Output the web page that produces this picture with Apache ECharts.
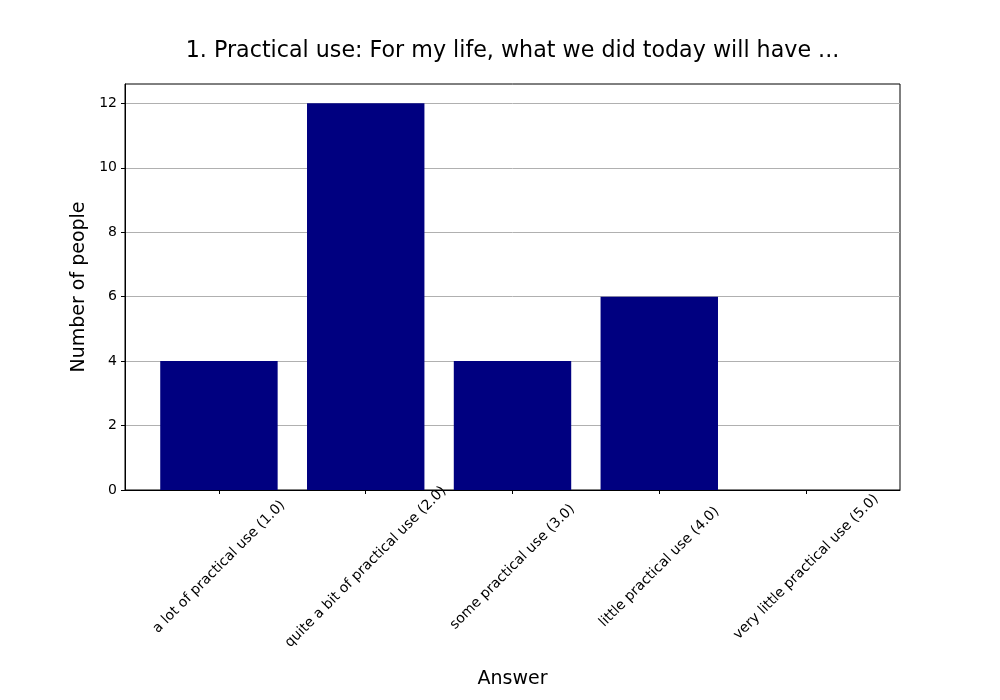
<!DOCTYPE html>
<html>
<head>
<meta charset="utf-8">
<script src="https://cdn.jsdelivr.net/npm/echarts@6/dist/echarts.min.js"></script>
<style>
  html, body { margin: 0; padding: 0; background: #fff; }
  #main { width: 1000px; height: 700px; }
</style>
</head>
<body>
<div id="main"></div>
<script>
var answers = ['a lot of practical use (1.0)', 'quite a bit of practical use (2.0)', 'some practical use (3.0)', 'little practical use (4.0)', 'very little practical use (5.0)'];
var people = [4, 12, 4, 6, 0];
var yTicks = [0, 2, 4, 6, 8, 10, 12];

var font = 'DejaVu Sans';
var plotLeft = 125, plotRight = 100, plotTop = 84, plotBottom = 210;
var xMin = -0.64, xMax = 4.64;
var plotWidth = 1000 - plotLeft - plotRight;

var myChart = echarts.init(document.getElementById('main'));
var option = {
	backgroundColor: '#fff',
	animation: false,
	title: {
		text: '1. Practical use: For my life, what we did today will have ...',
		left: plotLeft + plotWidth / 2 - 5,
		textAlign: 'center',
		top: 35,
		textStyle: { fontFamily: font, fontSize: 22.2, fontWeight: 'normal', color: '#000' }
	},
	grid: {
		left: plotLeft, right: plotRight, top: plotTop, bottom: plotBottom,
		show: true, borderColor: '#000', borderWidth: 1
	},
	xAxis: {
		type: 'value',
		min: xMin,
		max: xMax,
		name: 'Answer',
		nameLocation: 'middle',
		nameGap: 180,
		nameTextStyle: { fontFamily: font, fontSize: 19, color: '#000', verticalAlign: 'top' },
		axisLine: { show: true, onZero: false, lineStyle: { color: '#000', width: 1 } },
		axisTick: { show: true, length: 4, lineStyle: { color: '#000' }, customValues: answers.map(function (a, i) { return i; }) },
		splitLine: { show: false },
		axisLabel: {
			customValues: answers.map(function (a, i) { return i; }),
			rotate: 45,
			align: 'center',
			verticalAlign: 'middle',
			margin: 77,
			fontFamily: font,
			fontSize: 14,
			color: '#000',
			formatter: function (v) { return answers[Math.round(v)]; }
		}
	},
	yAxis: {
		type: 'value',
		min: 0,
		max: 12.6,
		interval: 2,
		name: 'Number of people',
		nameLocation: 'middle',
		nameGap: 31,
		nameRotate: 90,
		nameTextStyle: { fontFamily: font, fontSize: 19, color: '#000' },
		axisLine: { show: true, onZero: false, lineStyle: { color: '#000', width: 1 } },
		axisTick: { show: true, length: 4, lineStyle: { color: '#000' }, customValues: yTicks },
		splitLine: { show: true, lineStyle: { color: '#b0b0b0', width: 1 } },
		axisLabel: {
			customValues: yTicks,
			margin: 8,
			fontFamily: font,
			fontSize: 14,
			color: '#000'
		}
	},
	series: [{
		type: 'bar',
		barWidth: 0.8 * plotWidth / (xMax - xMin),
		itemStyle: { color: '#000080' },
		data: people.map(function (p, i) { return [i, p]; })
	}]
};
myChart.setOption(option);

window.onresize = function () {
	myChart.resize();
};
</script>
</body>
</html>
